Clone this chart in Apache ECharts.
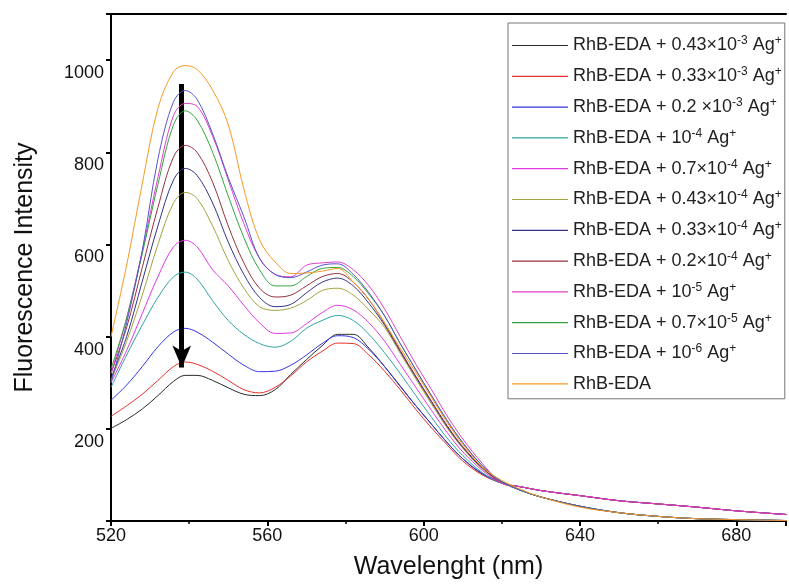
<!DOCTYPE html>
<html>
<head>
<meta charset="UTF-8">
<title>Fluorescence spectra</title>
<script src="https://cdn.jsdelivr.net/npm/echarts@6/dist/echarts.min.js"></script>
<style>
  html, body { margin: 0; padding: 0; background: #fff; }
  #main { width: 789px; height: 585px; }
</style>
</head>
<body>
<div id="main"></div>
<script type="text/javascript">
// wavelength (nm) sampled along the curves
var wavelength = [520, 524, 528, 532, 536, 539, 542, 546, 550, 554, 558, 562, 566, 570, 574, 578, 582, 586, 590, 594, 598, 602, 606, 610, 615, 620, 625, 630, 640, 650, 660, 670, 680, 693];

var ag043e3 = [201, 220, 243, 272, 303, 316, 316, 305, 289, 275, 272, 285, 318, 350, 380, 405, 405, 375, 335, 292, 250, 210, 170, 135, 102, 85, 66, 52, 32, 18, 10, 5, 3, 1];
var ag033e3 = [227, 250, 275, 305, 335, 345, 340, 325, 305, 285, 278, 290, 315, 345, 368, 386, 385, 360, 325, 285, 242, 202, 165, 130, 100, 82, 74, 66, 55, 44, 37, 30, 22, 14];
var ag02e3  = [262, 295, 335, 378, 410, 418, 410, 388, 362, 338, 324, 325, 338, 360, 385, 402, 398, 372, 335, 293, 250, 210, 170, 135, 103, 82, 74, 66, 55, 44, 37, 30, 22, 14];
var ag1e4   = [290, 360, 425, 485, 530, 540, 525, 478, 435, 405, 385, 377, 390, 418, 435, 446, 435, 405, 365, 320, 272, 225, 180, 142, 105, 82, 74, 66, 55, 44, 37, 30, 22, 14];
var ag07e4  = [300, 370, 450, 530, 595, 609, 595, 545, 510, 468, 430, 407, 408, 428, 452, 468, 458, 430, 390, 340, 290, 240, 192, 150, 110, 82, 74, 66, 55, 44, 37, 30, 22, 14];
var ag043e4 = [305, 390, 490, 600, 690, 713, 700, 640, 565, 505, 465, 457, 462, 478, 500, 505, 490, 458, 420, 364, 308, 254, 202, 158, 113, 85, 66, 52, 32, 18, 10, 5, 3, 1];
var ag033e4 = [310, 400, 520, 640, 740, 765, 750, 690, 605, 535, 485, 465, 470, 495, 518, 527, 510, 472, 425, 368, 312, 258, 205, 160, 115, 85, 66, 52, 32, 18, 10, 5, 3, 1];
var ag02e4  = [320, 420, 550, 680, 790, 815, 800, 735, 640, 560, 505, 486, 490, 510, 530, 537, 518, 480, 428, 370, 314, 260, 207, 161, 116, 82, 74, 66, 55, 44, 37, 30, 22, 14];
var ag1e5   = [320, 440, 585, 745, 880, 906, 900, 835, 740, 645, 570, 535, 530, 555, 560, 562, 545, 510, 460, 400, 340, 285, 228, 178, 125, 82, 74, 66, 55, 44, 37, 30, 22, 14];
var ag07e5  = [330, 440, 580, 730, 860, 890, 870, 800, 705, 615, 545, 510, 510, 530, 548, 550, 530, 492, 445, 385, 328, 272, 218, 170, 120, 85, 66, 52, 32, 18, 10, 5, 3, 1];
var ag1e6   = [300, 430, 587, 785, 910, 934, 915, 840, 745, 660, 570, 535, 528, 540, 555, 558, 535, 495, 445, 385, 328, 272, 218, 170, 120, 85, 66, 52, 32, 18, 10, 5, 3, 1];
var rhbEda  = [400, 555, 732, 895, 975, 988, 980, 935, 860, 720, 610, 562, 537, 538, 542, 548, 518, 480, 430, 375, 322, 268, 214, 166, 117, 88, 68, 52, 30, 18, 10, 5, 3, 1];

var seriesValues = [ag043e3, ag033e3, ag02e3, ag1e4, ag07e4, ag043e4, ag033e4, ag02e4, ag1e5, ag07e5, ag1e6, rhbEda];

var seriesNames = [
  'RhB-EDA + 0.43×10^-3 Ag^+',
  'RhB-EDA + 0.33×10^-3 Ag^+',
  'RhB-EDA + 0.2 ×10^-3 Ag^+',
  'RhB-EDA + 10^-4 Ag^+',
  'RhB-EDA + 0.7×10^-4 Ag^+',
  'RhB-EDA + 0.43×10^-4 Ag^+',
  'RhB-EDA + 0.33×10^-4 Ag^+',
  'RhB-EDA + 0.2×10^-4 Ag^+',
  'RhB-EDA + 10^-5 Ag^+',
  'RhB-EDA + 0.7×10^-5 Ag^+',
  'RhB-EDA + 10^-6 Ag^+',
  'RhB-EDA'
];
var legendLabels = [
  'RhB-EDA + 0.43×10{s|-3} Ag{s|+}',
  'RhB-EDA + 0.33×10{s|-3} Ag{s|+}',
  'RhB-EDA + 0.2 ×10{s|-3} Ag{s|+}',
  'RhB-EDA + 10{s|-4} Ag{s|+}',
  'RhB-EDA + 0.7×10{s|-4} Ag{s|+}',
  'RhB-EDA + 0.43×10{s|-4} Ag{s|+}',
  'RhB-EDA + 0.33×10{s|-4} Ag{s|+}',
  'RhB-EDA + 0.2×10{s|-4} Ag{s|+}',
  'RhB-EDA + 10{s|-5} Ag{s|+}',
  'RhB-EDA + 0.7×10{s|-5} Ag{s|+}',
  'RhB-EDA + 10{s|-6} Ag{s|+}',
  'RhB-EDA'
];
var colors = ['#2a2a2a', '#e5302a', '#3535e0', '#2fa3a3', '#e03ae0', '#a3a340', '#33338a', '#963040', '#e040c8', '#35a540', '#5555cc', '#f59a25'];

// arrow showing decreasing intensity
var arrowTop = [538.1, 948];
var arrowTip = [538.1, 333];

(function () {
  var myChart = echarts.init(document.getElementById('main'));
  var font = 'Liberation Sans, Arial, sans-serif';

  var series = [];
  for (let i = 0; i < seriesValues.length; i++) {
    let pts = [];
    for (let j = 0; j < wavelength.length; j++) {
      pts.push([wavelength[j], seriesValues[i][j]]);
    }
    series.push({
      name: seriesNames[i],
      type: 'line',
      data: pts,
      symbol: 'none',
      smooth: 0.35,
      lineStyle: { width: 1, color: colors[i] },
      itemStyle: { color: colors[i] },
      z: 2 + i
    });
  }
  series[series.length - 1].markLine = {
    silent: true,
    symbol: ['none', 'arrow'],
    symbolSize: [14, 22],
    label: { show: false },
    lineStyle: { color: '#000', width: 5, type: 'solid' },
    data: [[{ coord: arrowTop }, { coord: arrowTip }]]
  };

  var option = {
    backgroundColor: '#fff',
    animation: false,
    grid: { left: 111, top: 14, right: 0, bottom: 64 },
    legend: {
      orient: 'vertical',
      left: 508,
      top: 23,
      padding: [12, 3, 5, 4],
      itemGap: 9.8,
      itemWidth: 56,
      itemHeight: 1.2,
      icon: 'rect',
      borderColor: '#777',
      borderWidth: 1,
      selectedMode: false,
      data: seriesNames,
      formatter: function (name) {
        return legendLabels[seriesNames.indexOf(name)];
      },
      textStyle: {
        fontFamily: font,
        fontSize: 18,
        color: '#222',
        lineHeight: 20,
        rich: {
          s: { fontSize: 12, fontFamily: font, color: '#222', padding: [0, 0, 9, 0], lineHeight: 20 }
        }
      }
    },
    xAxis: [{
      type: 'value',
      min: 520,
      max: 692.7,
      interval: 40,
      name: 'Wavelenght (nm)',
      nameLocation: 'middle',
      nameGap: 34,
      nameTextStyle: { fontFamily: font, fontSize: 25, color: '#111' },
      axisLine: { lineStyle: { color: '#000', width: 2 } },
      axisTick: { inside: false, length: 5, lineStyle: { color: '#000', width: 2 } },
      minorTick: { show: true, splitNumber: 2, length: 3, lineStyle: { color: '#000', width: 1.5 } },
      splitLine: { show: false },
      axisLabel: {
        fontFamily: font, fontSize: 18, color: '#111', margin: 6,
        formatter: function (v) { return v % 40 === 0 ? v : ''; }
      }
    }, {
      type: 'value',
      position: 'top',
      min: 520,
      max: 692.7,
      axisLine: { show: true, lineStyle: { color: '#000', width: 2 } },
      axisTick: { show: false },
      axisLabel: { show: false },
      splitLine: { show: false }
    }],
    yAxis: {
      type: 'value',
      min: 0,
      max: 1100,
      interval: 200,
      name: 'Fluorescence Intensity',
      nameLocation: 'middle',
      nameGap: 73,
      nameTextStyle: { fontFamily: font, fontSize: 25, color: '#111' },
      axisLine: { show: true, lineStyle: { color: '#000', width: 2 } },
      axisTick: { inside: false, length: 5, lineStyle: { color: '#000', width: 2 } },
      splitLine: { show: false },
      axisLabel: {
        fontFamily: font, fontSize: 18, color: '#111', margin: 7,
        verticalAlign: 'top', padding: [4, 0, 0, 0],
        formatter: function (v) { return (v > 0 && v % 200 === 0) ? v : ''; }
      }
    },
    series: series
  };

  myChart.setOption(option);
})();
</script>
</body>
</html>
